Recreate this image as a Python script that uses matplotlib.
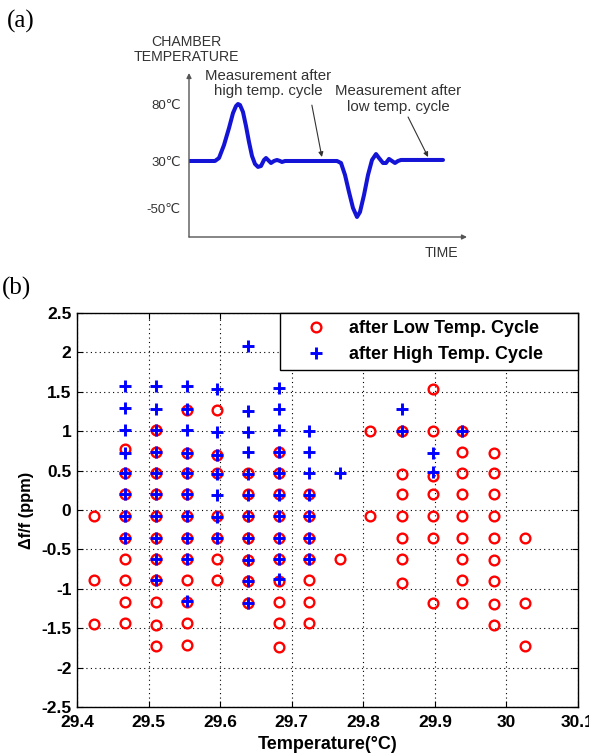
import numpy as np
from matplotlib import pyplot as plt

W, H = 589, 754

# ---- panel (a): schematic chamber temperature profile ----
cycle_time = [0, 9.35, 10.79, 12.59, 14.39, 15.83, 16.91, 17.63, 18.35, 19.42, 20.5,
              21.58, 22.66, 23.74, 24.82, 25.9, 26.98, 27.7, 28.42, 29.5, 30.58, 31.65,
              32.73, 33.45, 34.53, 53.24, 54.68, 56.12, 57.55, 58.99, 60.43, 61.51,
              62.95, 64.39, 65.83, 67.27, 68.35, 69.78, 70.86, 71.94, 73.02, 74.1,
              75.18, 76.26, 91.37]
cycle_temp = [30, 30, 32.6, 44.0, 58.9, 72.1, 78.2, 80, 79.1, 73.0, 60.7,
              46.7, 34.4, 24.9, 19.9, 21.5, 30.9, 32.6, 30.9, 26.6, 30, 30.9,
              30, 28.3, 30, 30, 26.6, 6.2, -22.7, -50, -65.3, -56.8,
              -27.9, 6.2, 30.9, 36.1, 32.6, 26.6, 26.6, 31.8, 30, 26.6,
              30, 30.9, 30.9]
temp_ticks = [80, 30, -50]
temp_labels = ['80℃', '30℃', '-50℃']

# ---- panel (b): frequency shift vs temperature ----
low_temp = ([29.424] * 3 + [29.467] * 9 + [29.510] * 11 + [29.553] * 11 + [29.596] * 7
            + [29.639] * 7 + [29.682] * 10 + [29.724] * 7 + [29.768] + [29.810] * 2
            + [29.854] * 7 + [29.897] * 7 + [29.938] * 9 + [29.982] * 9 + [30.026] * 3)
low_ppm = [-0.07, -0.89, -1.45,
           0.77, 0.47, 0.20, -0.07, -0.35, -0.62, -0.89, -1.17, -1.44,
           1.02, 0.74, 0.47, 0.20, -0.07, -0.35, -0.62, -0.89, -1.17, -1.46, -1.72,
           1.27, 0.72, 0.47, 0.20, -0.07, -0.35, -0.62, -0.89, -1.17, -1.44, -1.71,
           1.27, 0.70, 0.47, -0.08, -0.35, -0.62, -0.89,
           0.47, 0.20, -0.07, -0.35, -0.64, -0.90, -1.18,
           0.74, 0.47, 0.20, -0.07, -0.35, -0.62, -0.90, -1.17, -1.44, -1.74,
           0.20, -0.07, -0.35, -0.62, -0.89, -1.17, -1.44,
           -0.62,
           1.00, -0.07,
           1.00, 0.46, 0.20, -0.07, -0.35, -0.62, -0.93,
           1.53, 1.00, 0.43, 0.20, -0.08, -0.35, -1.18,
           1.00, 0.73, 0.47, 0.20, -0.07, -0.35, -0.62, -0.89, -1.18,
           0.72, 0.47, 0.20, -0.07, -0.35, -0.63, -0.90, -1.19, -1.46,
           -0.35, -1.18, -1.73]

high_temp = ([29.467] * 8 + [29.510] * 10 + [29.553] * 10 + [29.596] * 7 + [29.639] * 11
             + [29.682] * 10 + [29.724] * 7 + [29.768] + [29.854] * 2 + [29.897] * 2
             + [29.938])
high_ppm = [1.57, 1.29, 1.02, 0.72, 0.47, 0.20, -0.07, -0.35,
            1.57, 1.28, 1.02, 0.74, 0.47, 0.20, -0.07, -0.35, -0.62, -0.89,
            1.57, 1.28, 1.02, 0.72, 0.47, 0.20, -0.07, -0.35, -0.62, -1.15,
            1.53, 0.99, 0.70, 0.46, 0.19, -0.09, -0.35,
            2.08, 1.26, 0.99, 0.74, 0.46, 0.19, -0.07, -0.35, -0.64, -0.90, -1.18,
            1.55, 1.28, 1.02, 0.74, 0.47, 0.19, -0.07, -0.35, -0.62, -0.87,
            1.00, 0.74, 0.47, 0.19, -0.08, -0.35, -0.62,
            0.47,
            1.28, 1.00,
            0.72, 0.48,
            1.00]

x_ticks = [29.4, 29.5, 29.6, 29.7, 29.8, 29.9, 30.0, 30.1]
x_labels = ['29.4', '29.5', '29.6', '29.7', '29.8', '29.9', '30', '30.1']
y_ticks = [-2.5, -2, -1.5, -1, -0.5, 0, 0.5, 1, 1.5, 2, 2.5]
y_labels = ['-2.5', '-2', '-1.5', '-1', '-0.5', '0', '0.5', '1', '1.5', '2', '2.5']


def box(left, top, right, bottom):
    #converts a pixel box into figure fractions
    return [left / W, 1 - bottom / H, (right - left) / W, (bottom - top) / H]


plt.rcParams['font.family'] = ['Liberation Sans', 'DejaVu Sans']
fig = plt.figure(figsize=(W / 100, H / 100), dpi=100)

#Panel (a)
axa = fig.add_axes(box(189, 73, 467, 237))


def fwd(y):
    y = np.asarray(y, dtype=float)
    return np.where(y >= 30, (y - 30) * 57 / 50, (y - 30) * 47 / 80)


def inv(u):
    u = np.asarray(u, dtype=float)
    return np.where(u >= 0, 30 + u * 50 / 57, 30 + u * 80 / 47)


axa.set_yscale('function', functions=(fwd, inv))
axa.plot(cycle_time, cycle_temp, color='#1414d6', lw=2.9, solid_joinstyle='round',
         solid_capstyle='round')
axa.set_xlim(0, 100)
axa.set_ylim(-99.4, 107.2)
for s in axa.spines.values():
    s.set_visible(False)
axa.set_xticks([])
axa.set_yticks(temp_ticks)
axa.set_yticklabels(temp_labels)
axa.tick_params(axis='y', length=0, pad=6, labelsize=9.5, labelcolor='#333333')
axa.annotate('', xy=(0, 1), xytext=(0, 0), xycoords='axes fraction',
             arrowprops=dict(arrowstyle='-|>', color='#555555', lw=1.0,
                             mutation_scale=7, shrinkA=0, shrinkB=0))
axa.annotate('', xy=(1, 0), xytext=(0, 0), xycoords='axes fraction',
             arrowprops=dict(arrowstyle='-|>', color='#555555', lw=1.0,
                             mutation_scale=7, shrinkA=0, shrinkB=0))
axa.text(28.4, 98, 'Measurement after\nhigh temp. cycle', ha='center', va='center',
         fontsize=10.8, color='#333333', linespacing=1.1)
axa.text(75.2, 84.4, 'Measurement after\nlow temp. cycle', ha='center', va='center',
         fontsize=10.8, color='#333333', linespacing=1.1)
axa.annotate('', xy=(47.8, 33.5), xytext=(44.2, 79),
             arrowprops=dict(arrowstyle='-|>', color='#333333', lw=0.8,
                             mutation_scale=7, shrinkA=0, shrinkB=0))
axa.annotate('', xy=(86.0, 33.5), xytext=(78.8, 68.6),
             arrowprops=dict(arrowstyle='-|>', color='#333333', lw=0.8,
                             mutation_scale=7, shrinkA=0, shrinkB=0))
fig.text(186 / W, 1 - 49.5 / H, 'CHAMBER\nTEMPERATURE', ha='center', va='center',
         fontsize=10.2, color='#333333', linespacing=1.05)
fig.text(441 / W, 1 - 253 / H, 'TIME', ha='center', va='center', fontsize=10.2,
         color='#333333')
fig.text(7 / W, 1 - 21 / H, '(a)', ha='left', va='center', fontsize=18,
         family='Liberation Serif')

#Panel (b)
axb = fig.add_axes(box(77, 313, 578, 707))
axb.plot(low_temp, low_ppm, linestyle='none', marker='o', markersize=7,
         markerfacecolor='none', markeredgecolor='#ff0000', markeredgewidth=1.7,
         label='after Low Temp. Cycle')
axb.plot(high_temp, high_ppm, linestyle='none', marker='+', markersize=9,
         markeredgecolor='#0000ff', markeredgewidth=2.1,
         label='after High Temp. Cycle')
axb.set_xlim(29.4, 30.1)
axb.set_ylim(-2.5, 2.5)
axb.set_xticks(x_ticks)
axb.set_xticklabels(x_labels)
axb.set_yticks(y_ticks)
axb.set_yticklabels(y_labels)
axb.tick_params(direction='in', top=True, right=True, length=4, width=0.8,
                labelsize=12.5, pad=4)
axb.tick_params(axis='x', pad=6)
for lab in axb.get_xticklabels() + axb.get_yticklabels():
    lab.set_fontweight('bold')
axb.grid(True, color='black', linestyle=(0, (1, 3)), linewidth=0.8)
for s in axb.spines.values():
    s.set_linewidth(1.0)
axb.set_xlabel('Temperature(°C)', fontsize=13, fontweight='bold', labelpad=4)
axb.set_ylabel('Δf/f (ppm)', fontsize=11.8, fontweight='bold', labelpad=5)
leg = axb.legend(loc='upper left', bbox_to_anchor=(0.405, 0, 0.595, 1), mode='expand',
                 borderaxespad=0, fancybox=False, framealpha=1, edgecolor='black',
                 prop={'size': 13, 'weight': 'bold'}, handlelength=3.2,
                 handletextpad=0.2, borderpad=0.4, labelspacing=0.5)
leg.get_frame().set_linewidth(1.0)
fig.text(2 / W, 1 - 288 / H, '(b)', ha='left', va='center', fontsize=18,
         family='Liberation Serif')

fig.savefig('out.png', dpi=100)
